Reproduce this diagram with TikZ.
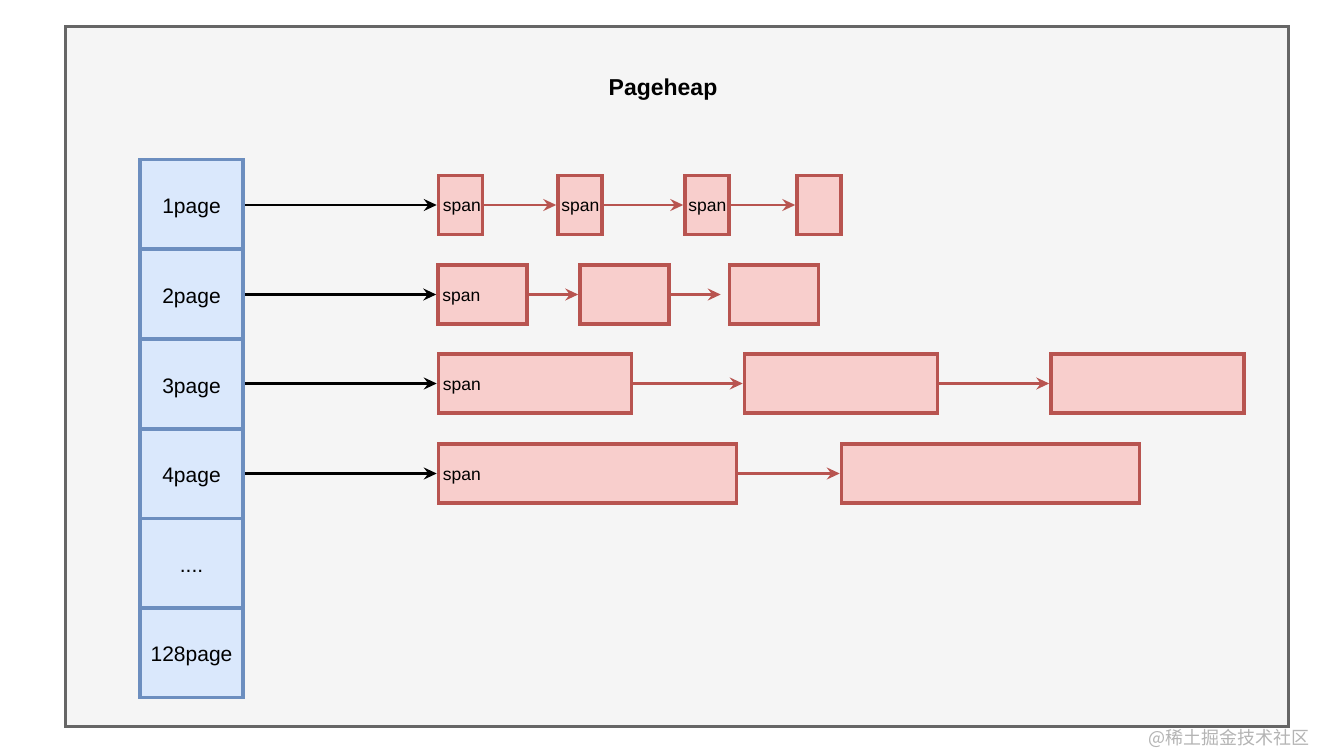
\documentclass[tikz,border=0pt]{standalone}
\usepackage{fontspec}
\setmainfont{Liberation Sans}
\newfontfamily\cjk{Noto Sans CJK SC}
\usetikzlibrary{arrows.meta}
\definecolor{framegray}{HTML}{666666}
\definecolor{framefill}{HTML}{F5F5F5}
\definecolor{cellfill}{HTML}{DAE8FC}
\definecolor{celldraw}{HTML}{6C8EBF}
\definecolor{spanfill}{HTML}{F8CECC}
\definecolor{spandraw}{HTML}{B85450}
\definecolor{wmgray}{HTML}{B4B4B4}
\begin{document}
\begin{tikzpicture}[x=1pt,y=-1pt,
  frame/.style={draw=framegray,fill=framefill,line width=3.5pt,minimum width=1223pt,minimum height=700pt,inner sep=0pt},
  cell/.style={draw=celldraw,fill=cellfill,line width=3.5pt,minimum width=103pt,minimum height=89.5pt,inner sep=0pt,text height=18pt,text depth=0pt,font=\fontsize{21}{24}\selectfont},
  spanbox/.style={draw=spandraw,fill=spanfill,line width=3.5pt,minimum height=59pt,inner sep=0pt},
  spanlbl/.style={anchor=west,inner sep=0pt,font=\fontsize{17.5}{20}\selectfont},
  blk/.style={draw=black,line width=2.2pt,-{Stealth[length=13pt,width=12pt,inset=4.5pt]}},
  red/.style={draw=spandraw,line width=2.2pt,-{Stealth[length=13pt,width=12pt,inset=4.5pt]}}
]
\useasboundingbox (0,0) rectangle (1318,754);
\fill[white] (0,0) rectangle (1318,754);
\node[frame] (frame) at (677,376.5) {};
\node[font=\bfseries\fontsize{23}{26}\selectfont] (title) at (663,90) {Pageheap};

% column
\node[cell] (c1) at (191.5,204.5) {1page};
\node[cell] (c2) at (191.5,294) {2page};
\node[cell] (c3) at (191.5,384) {3page};
\node[cell] (c4) at (191.5,473.5) {4page};
\node[cell] (c5) at (191.5,563) {....};
\node[cell] (c6) at (191.5,652.5) {128page};

% row 1
\node[spanbox,minimum width=44pt] (s11) at (460.5,205) {};
\node[spanbox,minimum width=44pt] (s12) at (580,205) {};
\node[spanbox,minimum width=44pt] (s13) at (707,205) {};
\node[spanbox,minimum width=44pt] (s14) at (819,205) {};
% row 2
\node[spanbox,minimum width=89pt] (s21) at (482.5,294.5) {};
\node[spanbox,minimum width=89pt] (s22) at (624.5,294.5) {};
\node[spanbox,minimum width=89pt] (s23) at (774,294.5) {};
% row 3
\node[spanbox,minimum width=193pt] (s31) at (535,383.5) {};
\node[spanbox,minimum width=193pt] (s32) at (841,383.5) {};
\node[spanbox,minimum width=193pt] (s33) at (1147.5,383.5) {};
% row 4
\node[spanbox,minimum width=298pt] (s41) at (587.5,473.5) {};
\node[spanbox,minimum width=298pt] (s42) at (990.5,473.5) {};

% span labels
\node[spanlbl] (l11) at ([xshift=6pt,yshift=-4pt]s11.west) {span};
\node[spanlbl] (l12) at ([xshift=5pt,yshift=-4pt]s12.west) {span};
\node[spanlbl] (l13) at ([xshift=5pt,yshift=-4pt]s13.west) {span};
\node[spanlbl] (l21) at ([xshift=6pt,yshift=-4pt]s21.west) {span};
\node[spanlbl] (l31) at ([xshift=6pt,yshift=-4pt]s31.west) {span};
\node[spanlbl] (l41) at ([xshift=6pt,yshift=-4pt]s41.west) {span};

% black arrows
\draw[blk] (c1.east |- s11.west) -- (s11.west);
\draw[blk] (c2.east |- s21.west) -- (s21.west);
\draw[blk] (c3.east |- s31.west) -- (s31.west);
\draw[blk] (c4.east |- s41.west) -- (s41.west);

% red arrows
\draw[red] (s11.east) -- (s12.west);
\draw[red] (s12.east) -- (s13.west);
\draw[red] (s13.east) -- (s14.west);
\draw[red] (s21.east) -- (s22.west);
\draw[red,shorten >=7pt] (s22.east) -- (s23.west);
\draw[red] (s31.east) -- (s32.west);
\draw[red] (s32.east) -- (s33.west);
\draw[red] (s41.east) -- (s42.west);

% watermark
\node[anchor=east,text=wmgray,inner sep=0pt,font=\cjk\fontsize{18}{20}\selectfont] (wm) at (1310,738) {@稀土掘金技术社区};
\end{tikzpicture}
\end{document}
